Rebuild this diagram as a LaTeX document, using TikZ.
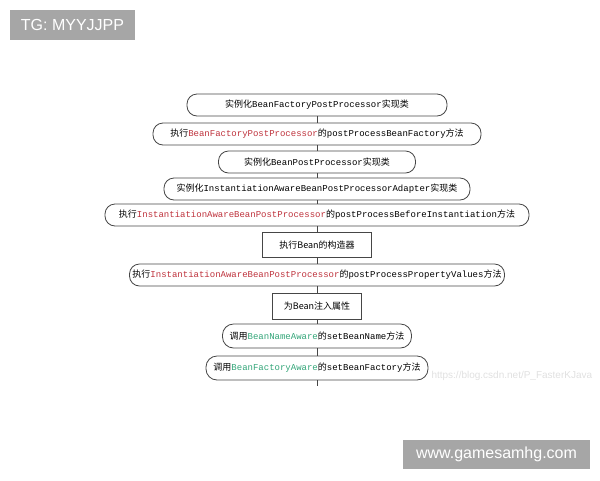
\documentclass[tikz,border=0pt]{standalone}
\usepackage{fontspec}
\setmainfont{Noto Sans CJK SC}
\setmonofont{Liberation Mono}
\newfontfamily\wmfont{Liberation Sans}
\definecolor{procred}{RGB}{190,50,60}
\definecolor{awaregreen}{RGB}{50,165,120}
\definecolor{edgegray}{RGB}{70,70,70}
\definecolor{stampgray}{RGB}{166,166,166}
\newcommand{\cls}[1]{{\ttfamily\color{procred}#1}}
\newcommand{\aw}[1]{{\ttfamily\color{awaregreen}#1}}
\newcommand{\mt}[1]{{\ttfamily #1}}
\begin{document}
\begin{tikzpicture}[x=1pt, y=-1pt,
    pill/.style={rectangle, draw=edgegray, line width=0.8pt, rounded corners=10pt, minimum height=22pt, inner sep=0pt, font=\fontsize{9}{10}\selectfont},
    plain/.style={rectangle, draw=edgegray, line width=0.8pt, minimum height=25pt, inner sep=0pt, font=\fontsize{9}{10}\selectfont},
    link/.style={draw=edgegray, line width=0.8pt},
    stamp/.style={fill=stampgray, text=white, inner sep=0pt, font=\wmfont\fontsize{16}{18}\selectfont}
]
    \useasboundingbox (0,0) rectangle (600,480);

    \node[pill, minimum width=260pt] (inst1) at (317,105) {实例化\mt{BeanFactoryPostProcessor}实现类};
    \node[pill, minimum width=328pt] (run1) at (317,134) {执行\cls{BeanFactoryPostProcessor}的\mt{postProcessBeanFactory}方法};
    \node[pill, minimum width=197pt] (inst2) at (317,162) {实例化\mt{BeanPostProcessor}实现类};
    \node[pill, minimum width=306pt] (inst3) at (317,189) {实例化\mt{InstantiationAwareBeanPostProcessorAdapter}实现类};
    \node[pill, minimum width=424pt] (run2) at (317,215) {执行\cls{InstantiationAwareBeanPostProcessor}的\mt{postProcessBeforeInstantiation}方法};
    \node[plain, minimum width=109pt] (ctor) at (317,245) {执行Bean的构造器};
    \node[pill, minimum width=375pt] (run3) at (317,275) {执行\cls{InstantiationAwareBeanPostProcessor}的\mt{postProcessPropertyValues}方法};
    \node[plain, minimum width=89pt, minimum height=26pt] (props) at (317,306) {为Bean注入属性};
    \node[pill, minimum width=189pt, minimum height=24pt, rounded corners=11pt] (name) at (317,336) {调用\aw{BeanNameAware}的\mt{setBeanName}方法};
    \node[pill, minimum width=222pt, minimum height=24pt, rounded corners=11pt] (factory) at (317,368) {调用\aw{BeanFactoryAware}的\mt{setBeanFactory}方法};
    \coordinate (tail) at (317,386);

    \draw[link] (inst1) -- (run1);
    \draw[link] (run1) -- (inst2);
    \draw[link] (inst2) -- (inst3);
    \draw[link] (inst3) -- (run2);
    \draw[link] (run2) -- (ctor);
    \draw[link] (ctor) -- (run3);
    \draw[link] (run3) -- (props);
    \draw[link] (props) -- (name);
    \draw[link] (name) -- (factory);
    \draw[link] (factory) -- (tail);

    % watermarks
    \node[anchor=west, text=black!12, font=\wmfont\fontsize{10}{12}\selectfont] (blog) at (428,376) {https://blog.csdn.net/P\_FasterKJava};
    \node[stamp, minimum width=125pt, minimum height=30pt] (tg) at (72.5,25) {TG: MYYJJPP};
    \node[stamp, minimum width=187pt, minimum height=29pt] (site) at (496.5,454.5) {www.gamesamhg.com};
\end{tikzpicture}
\end{document}
